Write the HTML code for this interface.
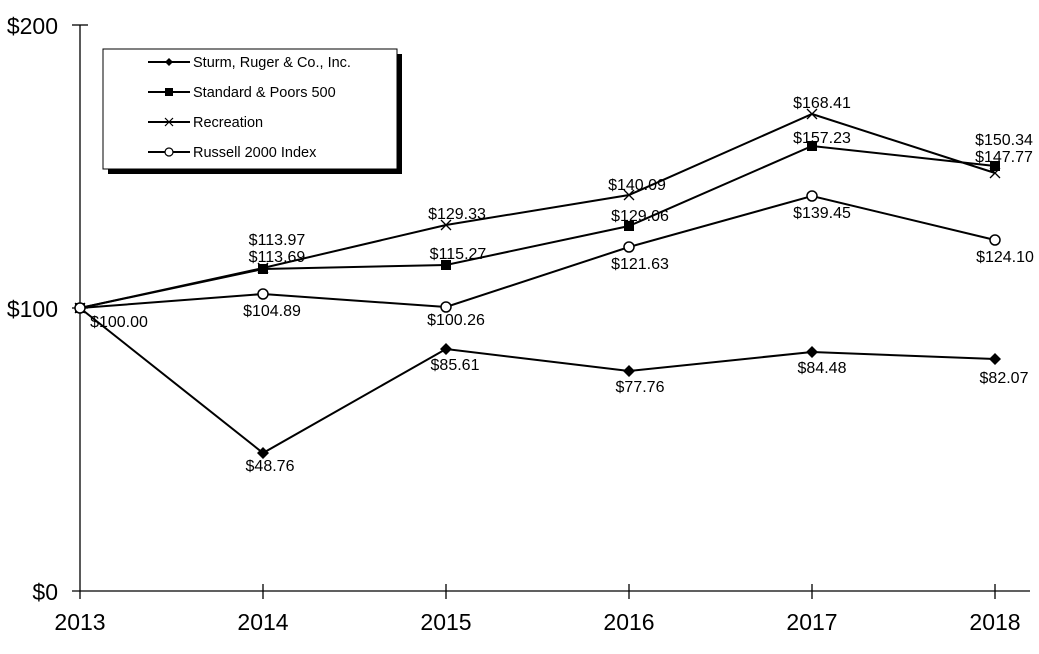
<!DOCTYPE html><html><head><style>body{margin:0;background:#fff}svg{display:block}</style></head><body>
<svg width="1039" height="654" xmlns="http://www.w3.org/2000/svg" font-family="Liberation Sans, Arial, sans-serif">
<g stroke="#000" stroke-width="1.3" fill="none">
<line x1="80" y1="25" x2="80" y2="599"/>
<line x1="72" y1="591" x2="1030" y2="591"/>
<line x1="72" y1="25" x2="88" y2="25"/><line x1="72" y1="308" x2="88" y2="308"/>
<line x1="263" y1="584" x2="263" y2="599"/><line x1="446" y1="584" x2="446" y2="599"/><line x1="629" y1="584" x2="629" y2="599"/><line x1="812" y1="584" x2="812" y2="599"/><line x1="995" y1="584" x2="995" y2="599"/>
</g>
<g font-size="23" fill="#000">
<text x="58" y="34" text-anchor="end">$200</text>
<text x="58" y="317" text-anchor="end">$100</text>
<text x="58" y="600" text-anchor="end">$0</text>
<g text-anchor="middle"><text x="80" y="630">2013</text><text x="263" y="630">2014</text><text x="446" y="630">2015</text><text x="629" y="630">2016</text><text x="812" y="630">2017</text><text x="995" y="630">2018</text></g>
</g>
<g stroke="#000" stroke-width="2" fill="none">
<polyline points="80,308 263,453 446,349 629,371 812,352 995,359"/>
<polyline points="80,308 263,269 446,265 629,226 812,146 995,166"/>
<polyline points="80,308 263,268 446,225 629,195 812,114 995,173"/>
<polyline points="80,308 263,294 446,307 629,247 812,196 995,240"/>
</g>
<g fill="#000">
<path d="M80 302l6 6-6 6-6-6z M263 447l6 6-6 6-6-6z M446 343l6 6-6 6-6-6z M629 365l6 6-6 6-6-6z M812 346l6 6-6 6-6-6z M995 353l6 6-6 6-6-6z"/>
<rect x="75" y="303" width="10" height="10"/><rect x="258" y="264" width="10" height="10"/><rect x="441" y="260" width="10" height="10"/><rect x="624" y="221" width="10" height="10"/><rect x="807" y="141" width="10" height="10"/><rect x="990" y="161" width="10" height="10"/>
</g>
<g stroke="#000" stroke-width="1.3">
<path d="M75 303l10 10M85 303l-10 10 M258 263l10 10M268 263l-10 10 M441 220l10 10M451 220l-10 10 M624 190l10 10M634 190l-10 10 M807 109l10 10M817 109l-10 10 M990 168l10 10M1000 168l-10 10"/>
</g>
<g fill="#fff" stroke="#000" stroke-width="1.5">
<circle cx="80" cy="308" r="5"/><circle cx="263" cy="294" r="5"/><circle cx="446" cy="307" r="5"/><circle cx="629" cy="247" r="5"/><circle cx="812" cy="196" r="5"/><circle cx="995" cy="240" r="5"/>
</g>
<g font-size="16" fill="#000" text-anchor="middle">
<text x="119" y="327">$100.00</text>
<text x="270" y="471">$48.76</text><text x="455" y="370">$85.61</text><text x="640" y="392">$77.76</text><text x="822" y="373">$84.48</text><text x="1004" y="383">$82.07</text>
<text x="277" y="262">$113.69</text><text x="458" y="259">$115.27</text><text x="640" y="221">$129.06</text><text x="822" y="143">$157.23</text><text x="1004" y="162">$147.77</text>
<text x="277" y="245">$113.97</text><text x="457" y="219">$129.33</text><text x="637" y="190">$140.09</text><text x="822" y="108">$168.41</text><text x="1004" y="145">$150.34</text>
<text x="272" y="316">$104.89</text><text x="456" y="325">$100.26</text><text x="640" y="269">$121.63</text><text x="822" y="218">$139.45</text><text x="1005" y="262">$124.10</text>
</g>
<rect x="108" y="54" width="294" height="120" fill="#000"/>
<rect x="103" y="49" width="294" height="120" fill="#fff" stroke="#000" stroke-width="1"/>
<g stroke="#000" stroke-width="2"><line x1="148" y1="62" x2="190" y2="62"/><line x1="148" y1="92" x2="190" y2="92"/><line x1="148" y1="122" x2="190" y2="122"/><line x1="148" y1="152" x2="190" y2="152"/></g>
<path d="M169 58l4 4-4 4-4-4z" fill="#000"/><rect x="165" y="88" width="8" height="8" fill="#000"/>
<path d="M165 118l8 8M173 118l-8 8" stroke="#000" stroke-width="1.2"/>
<circle cx="169" cy="152" r="4" fill="#fff" stroke="#000" stroke-width="1.2"/>
<g font-size="14.5" fill="#000"><text x="193" y="67">Sturm, Ruger &amp; Co., Inc.</text><text x="193" y="97">Standard &amp; Poors 500</text><text x="193" y="127">Recreation</text><text x="193" y="157">Russell 2000 Index</text></g>
</svg></body></html>
